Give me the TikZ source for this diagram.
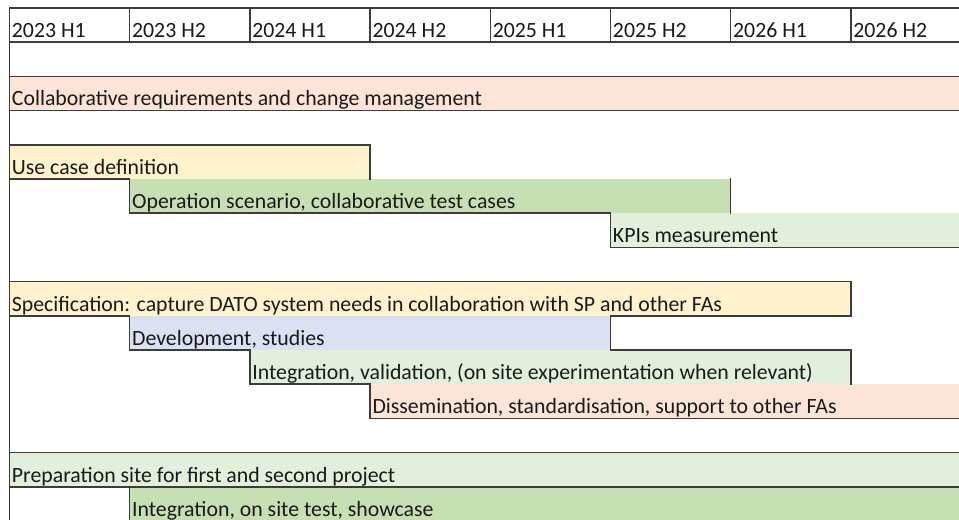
\documentclass[tikz,border=0pt]{standalone}
\usepackage{fontspec}
\setmainfont{Carlito}
\usepackage{xcolor}
\usepackage{tikz}
\definecolor{barpink}{HTML}{FCE4D6}
\definecolor{baryellow}{HTML}{FFF2CC}
\definecolor{bargreen}{HTML}{C6E0B4}
\definecolor{barlightgreen}{HTML}{E2EFDA}
\definecolor{barblue}{HTML}{D9E1F2}
\definecolor{gridink}{HTML}{3C3C3C}
\definecolor{labelink}{HTML}{1A1A1A}
\newcommand{\barfont}{\fontsize{15.5}{18}\selectfont}
\tikzset{
  barlabel/.style={anchor=base west,inner sep=0pt,font=\barfont,text=labelink},
  gridrule/.style={draw=gridink,line width=1.05pt,line cap=rect}
}

\begin{document}
\begin{tikzpicture}[x=3.005cm,y=-0.855cm]
  \clip (-0.079,-0.234) rectangle (7.899,14.942);
  \fill[white] (-0.079,-0.234) rectangle (7.899,14.942);
  % bars, one column per half year, one row per task
  \fill[barpink] (0,2) rectangle (8,3);
  \fill[baryellow] (0,4) rectangle (3,5);
  \fill[bargreen] (1,5) rectangle (6,6);
  \fill[barlightgreen] (5,6) rectangle (8,7);
  \fill[baryellow] (0,8) rectangle (7,9);
  \fill[barblue] (1,9) rectangle (5,10);
  \fill[barlightgreen] (2,10) rectangle (7,11);
  \fill[barpink] (3,11) rectangle (8,12);
  \fill[barlightgreen] (0,13) rectangle (8,14);
  \fill[bargreen] (1,14) rectangle (8,15.2);
  % header cells
  \draw[gridrule] (0,0) rectangle (8,1);
  \foreach \col in {1,...,7}
    \draw[gridrule] (\col,0) -- (\col,1);
  \draw[gridrule] (0,1) -- (0,15.2);
  % outlines of the bars
  \draw[gridrule] (0,2) -- (8,2) (0,3) -- (8,3);
  \draw[gridrule] (0,4) -| (3,5);
  \draw[gridrule] (0,5) -| (1,6) -| (5,7) -- (8,7);
  \draw[gridrule] (6,5) -- (6,6);
  \draw[gridrule] (0,8) -| (7,9) -| (5,10) -| (7,11);
  \draw[gridrule] (0,9) -| (1,10) -| (2,11) -| (3,12) -- (8,12);
  \draw[gridrule] (0,13) -- (8,13) (0,14) -- (8,14);
  \draw[gridrule] (1,14) -- (1,15.2);
  % labels
  \foreach \lbl [count=\i from 0] in {2023 H1,2023 H2,2024 H1,2024 H2,2025 H1,2025 H2,2026 H1,2026 H2}
    \node[barlabel] (half\i) at (\i+0.018,0.86) {\lbl};
  \node[barlabel] (collab) at (0.018,2.86) {Collaborative requirements and change management};
  \node[barlabel] (usecase) at (0.018,4.86) {Use case definition};
  \node[barlabel] (opscen) at (1.018,5.86) {Operation scenario, collaborative test cases};
  \node[barlabel] (kpis) at (5.018,6.86) {KPIs measurement};
  \node[barlabel] (spec) at (0.018,8.86) {Specification: capture DATO system needs in collaboration with SP and other FAs};
  \node[barlabel] (devel) at (1.018,9.86) {Development, studies};
  \node[barlabel] (integ) at (2.018,10.86) {Integration, validation, (on site experimentation when relevant)};
  \node[barlabel] (dissem) at (3.018,11.86) {Dissemination, standardisation, support to other FAs};
  \node[barlabel] (prep) at (0.018,13.86) {Preparation site for first and second project};
  \node[barlabel] (onsite) at (1.018,14.86) {Integration, on site test, showcase};
\end{tikzpicture}
\end{document}
